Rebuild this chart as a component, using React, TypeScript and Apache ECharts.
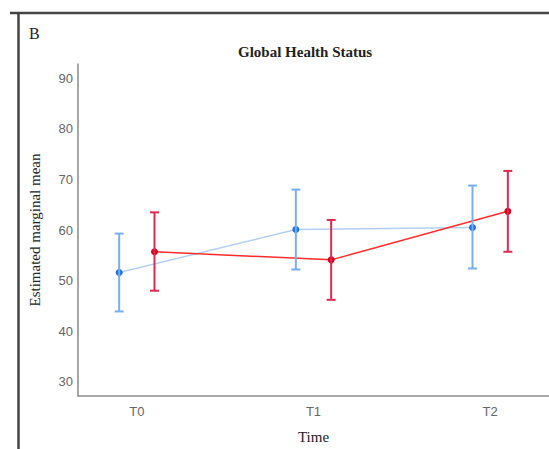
import React, { useEffect, useRef } from "react";
import * as echarts from "echarts";

const categories = ["T0", "T1", "T2"];
const yTicks = [30, 40, 50, 60, 70, 80, 90];
const blueMean = [51.6, 60.1, 60.5];
const blueLower = [43.9, 52.2, 52.4];
const blueUpper = [59.3, 68.0, 68.8];
const redMean = [55.7, 54.1, 63.7];
const redLower = [48.0, 46.2, 55.7];
const redUpper = [63.5, 62.0, 71.7];
const groupOffset = 0.1;

const BLUE_PT = "#1f6fe5";
const BLUE_LINE = "#b3d0f4";
const BLUE_ERR = "#7aaef0";
const RED_PT = "#d6001c";
const RED_LINE = "#ff2b2b";
const RED_ERR = "#dc2a50";

function errorSeries(name: string, lower: number[], upper: number[], off: number, color: string) {
  return {
    type: "custom",
    name,
    z: 3,
    data: categories.map((_, i) => [i + off, lower[i], upper[i]]),
    encode: { x: 0, y: [1, 2] },
    renderItem: (params: any, api: any) => {
      const x = api.value(0);
      const lo = api.coord([x, api.value(1)]);
      const hi = api.coord([x, api.value(2)]);
      const hw = 4.5;
      const st = { stroke: color, lineWidth: 2 };
      return {
        type: "group",
        children: [
          { type: "line", shape: { x1: hi[0], y1: hi[1], x2: lo[0], y2: lo[1] }, style: st },
          { type: "line", shape: { x1: hi[0] - hw, y1: hi[1], x2: hi[0] + hw, y2: hi[1] }, style: st },
          { type: "line", shape: { x1: lo[0] - hw, y1: lo[1], x2: lo[0] + hw, y2: lo[1] }, style: st },
        ],
      };
    },
  };
}

export default function App() {
  const ref = useRef<HTMLDivElement>(null);
  useEffect(() => {
    if (!ref.current) return;
    const chart = echarts.init(ref.current, null, { renderer: "svg" });
    chart.setOption({
      animation: false,
      backgroundColor: "#ffffff",
      title: {
        text: "Global Health Status",
        left: 233,
        top: 39,
        textStyle: { fontFamily: "Liberation Serif", fontWeight: "bold", fontSize: 15, color: "#222" },
      },
      graphic: [
        { type: "line", shape: { x1: 10, y1: 13, x2: 549, y2: 13 }, style: { stroke: "#444", lineWidth: 2.5 } },
        { type: "line", shape: { x1: 18.5, y1: 12, x2: 18.5, y2: 449 }, style: { stroke: "#444", lineWidth: 2.5 } },
        {
          type: "text",
          left: 29,
          top: 25,
          style: { text: "B", fontFamily: "Liberation Serif", fontSize: 16, fill: "#222" },
        },
      ],
      grid: { left: 78, right: -8, top: 64, bottom: 51 },
      xAxis: {
        type: "value",
        min: -0.333,
        max: 2.333,
        name: "Time",
        nameLocation: "middle",
        nameGap: 33,
        nameTextStyle: { fontFamily: "Liberation Serif", fontSize: 15, color: "#222" },
        splitLine: { show: false },
        axisTick: { show: false },
        axisLine: { onZero: false, lineStyle: { color: "#8a8a8a", width: 1.5 } },
        axisLabel: {
          customValues: [0, 1, 2],
          formatter: (v: number) => categories[Math.round(v)],
          fontFamily: "Liberation Sans",
          fontSize: 13,
          color: "#666",
          margin: 9,
        },
      },
      yAxis: {
        type: "value",
        min: 27.17,
        max: 92.85,
        name: "Estimated marginal mean",
        nameLocation: "middle",
        nameGap: 36,
        nameRotate: 90,
        nameTextStyle: { fontFamily: "Liberation Serif", fontSize: 15, color: "#222" },
        splitLine: { show: false },
        axisTick: { show: false },
        axisLine: { show: true, onZero: false, lineStyle: { color: "#8a8a8a", width: 1.5 } },
        axisLabel: {
          customValues: yTicks,
          fontFamily: "Liberation Sans",
          fontSize: 13,
          color: "#666",
          margin: 5,
        },
      },
      series: [
        {
          type: "line",
          name: "Group 1",
          z: 2,
          data: categories.map((_, i) => [i - groupOffset, blueMean[i]]),
          lineStyle: { color: BLUE_LINE, width: 1.5 },
          itemStyle: { color: BLUE_PT },
          symbol: "circle",
          symbolSize: 7,
        },
        {
          type: "line",
          name: "Group 2",
          z: 2,
          data: categories.map((_, i) => [i + groupOffset, redMean[i]]),
          lineStyle: { color: RED_LINE, width: 1.5 },
          itemStyle: { color: RED_PT },
          symbol: "circle",
          symbolSize: 7,
        },
        errorSeries("Group 1 CI", blueLower, blueUpper, -groupOffset, BLUE_ERR),
        errorSeries("Group 2 CI", redLower, redUpper, groupOffset, RED_ERR),
      ],
    });
    return () => chart.dispose();
  }, []);
  return <div ref={ref} style={{ position: "fixed", left: 0, top: 0, width: 549, height: 449 }} />;
}
